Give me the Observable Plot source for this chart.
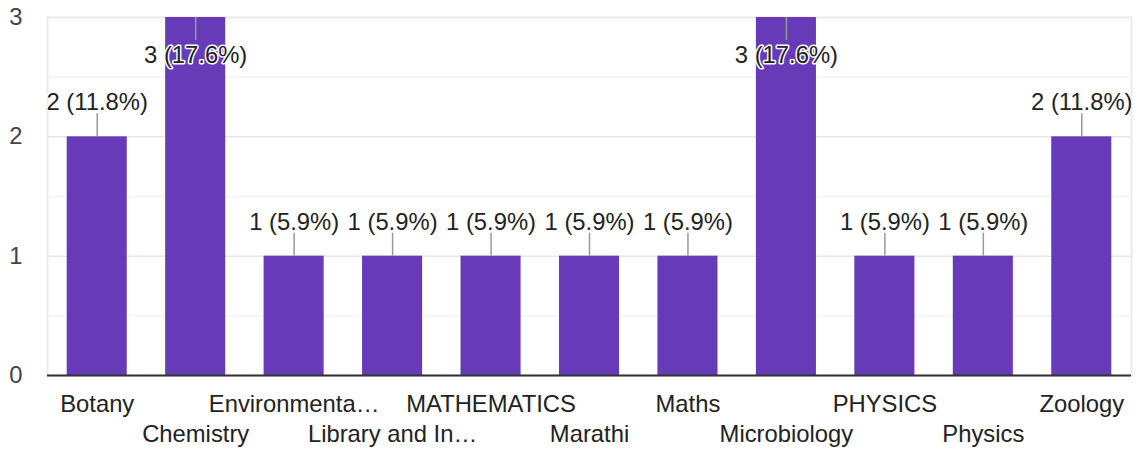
<!DOCTYPE html>
<html>
<head>
<meta charset="utf-8">
<script src="https://cdn.jsdelivr.net/npm/d3@7"></script>
<script src="https://cdn.jsdelivr.net/npm/@observablehq/plot@0.6"></script>
<style>
  html, body { margin: 0; padding: 0; background: #fff; }
  #chart svg { display: block; }
</style>
</head>
<body>
<div id="chart"></div>
<script>
const categories = ["Botany", "Chemistry", "Environmenta…", "Library and In…", "MATHEMATICS", "Marathi", "Maths", "Microbiology", "PHYSICS", "Physics", "Zoology"];
const counts = [2, 3, 1, 1, 1, 1, 1, 3, 1, 1, 2];
const yTicks = [0, 1, 2, 3];
const yMinorTicks = [0.5, 1.5, 2.5];

const total = d3.sum(counts);
const yMax = 3;
const data = categories.map((c, i) => ({
  cat: c,
  value: counts[i],
  label: `${counts[i]} (${(counts[i] / total * 100).toFixed(1)}%)`,
  inside: counts[i] >= yMax
}));

const W = 1140, H = 452;
const mTop = 17, mBottom = 77, mLeft = 47, mRight = 9;
const unitsPerPx = yMax / (H - mTop - mBottom);
const leader = 23 * unitsPerPx;

const font = "'Liberation Sans', Arial, sans-serif";
const fs = 23.8;

const plot = Plot.plot({
  width: W,
  height: H,
  marginTop: mTop,
  marginBottom: mBottom,
  marginLeft: mLeft,
  marginRight: mRight,
  style: { fontFamily: font, fontSize: fs + "px", color: "#222", background: "#fff" },
  x: { domain: categories, paddingInner: 0.39, paddingOuter: 0.2, round: false, label: null },
  y: { domain: [0, yMax], label: null },
  marks: [
    Plot.gridY(yMinorTicks, { stroke: "#f3f3f3", strokeOpacity: 1, strokeWidth: 1.5 }),
    Plot.gridY(yTicks, { stroke: "#e6e6e6", strokeOpacity: 1, strokeWidth: 1.5 }),
    Plot.frame({ stroke: "#ebebeb", strokeWidth: 2 }),
    Plot.barY(data, { x: "cat", y: "value", fill: "#673ab7" }),
    Plot.ruleY([0], { stroke: "#333", strokeWidth: 2 }),
    Plot.ruleX(data, {
      x: "cat",
      y1: "value",
      y2: d => d.inside ? d.value - leader : d.value + leader,
      stroke: "#999",
      strokeWidth: 1.5
    }),
    Plot.text(data, {
      x: "cat",
      y: "value",
      text: "label",
      fill: "#222",
      stroke: "white",
      strokeWidth: 3,
      fontSize: fs,
      lineAnchor: "middle",
      filter: d => !d.inside,
      dy: -34
    }),
    Plot.text(data, {
      x: "cat",
      y: "value",
      text: "label",
      fill: "#222",
      stroke: "white",
      strokeWidth: 3,
      fontSize: fs,
      lineAnchor: "middle",
      filter: d => d.inside,
      dy: 38
    }),
    Plot.axisY({ ticks: yTicks, tickFormat: d3.format("d"), tickSize: 0, tickPadding: 25, fill: "#444", fontSize: fs, label: null }),
    Plot.axisX({ ticks: categories.filter((c, i) => i % 2 === 0), tickSize: 0, tickPadding: 20, fill: "#222", fontSize: fs, label: null }),
    Plot.axisX({ ticks: categories.filter((c, i) => i % 2 === 1), tickSize: 0, tickPadding: 50, fill: "#222", fontSize: fs, label: null })
  ]
});

document.getElementById("chart").appendChild(plot);
</script>
</body>
</html>
